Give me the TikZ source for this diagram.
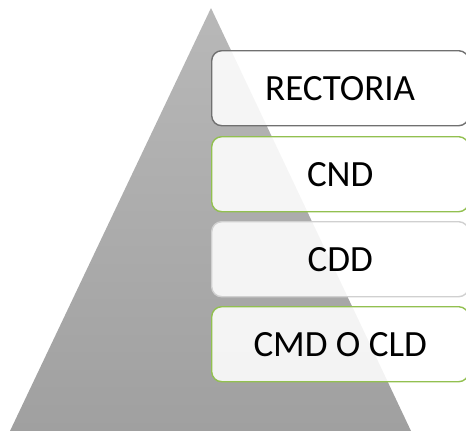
\documentclass[tikz,border=0pt]{standalone}
\usepackage{fontspec}
\setmainfont{Carlito}
\definecolor{boxgreen}{RGB}{146,192,80}
\definecolor{boxdark}{RGB}{112,112,112}
\definecolor{boxlight}{RGB}{208,208,208}
\definecolor{tritop}{RGB}{184,184,184}
\definecolor{tribot}{RGB}{160,160,160}
\tikzset{
  level/.style={draw, line width=1.4pt, rounded corners=10pt, fill=white, fill opacity=0.88, text opacity=1,
    minimum width=257pt, minimum height=75pt, inner sep=0pt, anchor=north west,
    font=\fontsize{37}{44}\selectfont}
}
\begin{document}
\begin{tikzpicture}[x=1pt,y=-1pt]
\useasboundingbox (0,0) rectangle (466,431);
\coordinate (apex) at (211,8);
\coordinate (bl) at (10,431);
\coordinate (br) at (411,431);
\shade[top color=tritop, bottom color=tribot] (apex) -- (br) -- (bl) -- cycle;
\node[level, draw=boxdark] (r) at (211,50) {RECTORIA};
\node[level, draw=boxgreen] (cnd) at (211,136) {CND};
\node[level, draw=boxlight] (cdd) at (211,221) {CDD};
\node[level, draw=boxgreen] (cmd) at (211,306) {CMD O CLD};
\end{tikzpicture}
\end{document}
